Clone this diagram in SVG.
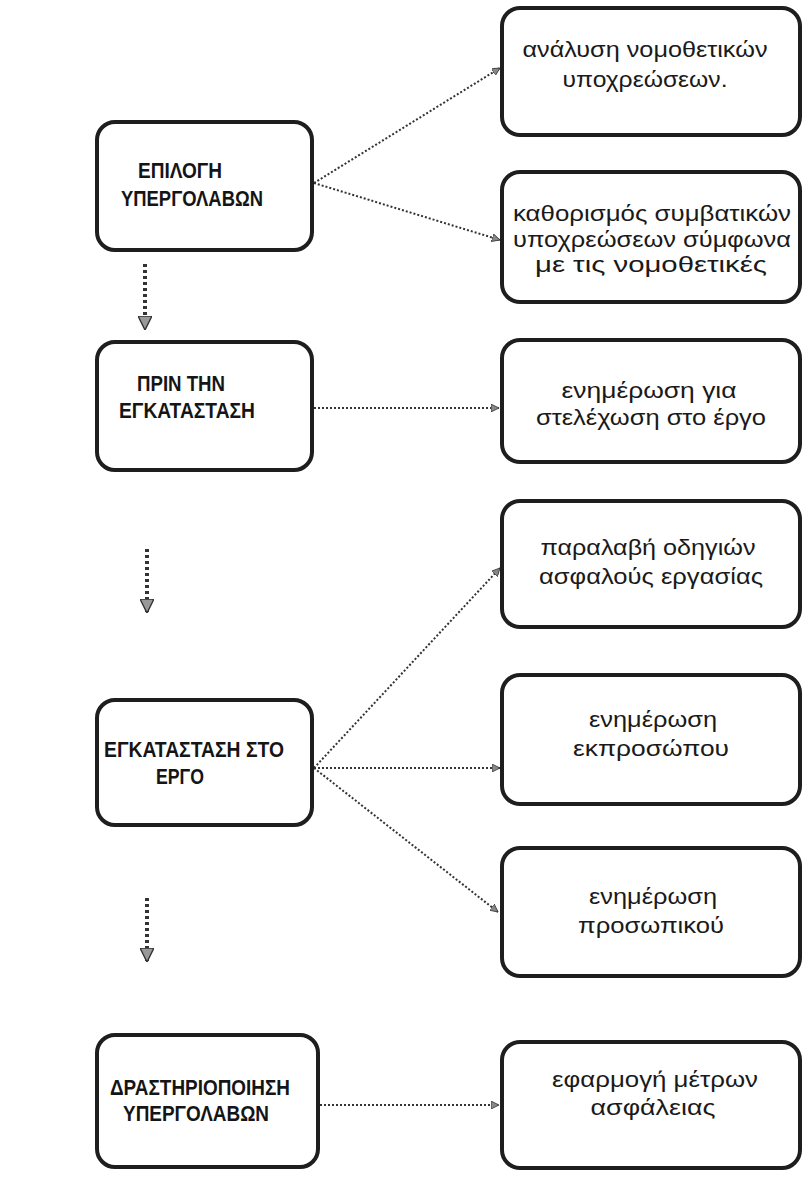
<svg xmlns="http://www.w3.org/2000/svg" width="810" height="1180" viewBox="0 0 810 1180">
<style>
.box{fill:#fff;stroke:#1e1e1e;stroke-width:4}
.lt{font-family:"Liberation Sans",Arial,sans-serif;font-weight:bold;font-size:22px;fill:#151515;text-anchor:middle}
.rt{font-family:"Liberation Sans",Arial,sans-serif;font-size:22px;fill:#1a1a1a;text-anchor:middle}
.con{stroke:#333;stroke-width:2;stroke-dasharray:2 2;fill:none}
.vcon{stroke:#333;stroke-width:4;stroke-dasharray:3 3;fill:none}
</style>
<defs>
<marker id="ah" viewBox="0 0 10 10" refX="10" refY="5" markerWidth="8" markerHeight="8" markerUnits="userSpaceOnUse" orient="auto">
<path d="M0,0 L10,5 L0,10 Z" fill="#888" stroke="#333" stroke-width="1"/>
</marker>
<marker id="ahv" viewBox="0 0 10 10" refX="10" refY="5" markerWidth="14" markerHeight="14" markerUnits="userSpaceOnUse" orient="auto">
<path d="M0,0 L10,5 L0,10 Z" fill="#999" stroke="#333" stroke-width="1"/>
</marker>
</defs>
<rect width="810" height="1180" fill="#fff"/>
<g id="connectors">
<line class="con" x1="314" y1="183" x2="500" y2="68" marker-end="url(#ah)"/>
<line class="con" x1="314" y1="183" x2="500" y2="240" marker-end="url(#ah)"/>
<line class="con" x1="314" y1="408" x2="499" y2="408" marker-end="url(#ah)"/>
<line class="con" x1="314" y1="768" x2="500" y2="568" marker-end="url(#ah)"/>
<line class="con" x1="314" y1="768" x2="500" y2="768" marker-end="url(#ah)"/>
<line class="con" x1="314" y1="768" x2="498" y2="912" marker-end="url(#ah)"/>
<line class="con" x1="320" y1="1105" x2="499" y2="1105" marker-end="url(#ah)"/>
<line class="vcon" x1="145" y1="264" x2="145" y2="330" marker-end="url(#ahv)"/>
<line class="vcon" x1="147" y1="549" x2="147" y2="613" marker-end="url(#ahv)"/>
<line class="vcon" x1="147" y1="898" x2="147" y2="962" marker-end="url(#ahv)"/>
</g>
<g id="n1">
<rect class="box" x="97" y="122" width="215" height="128" rx="18"/>
<text class="lt" x="180" y="178" textLength="84" lengthAdjust="spacingAndGlyphs">ΕΠΙΛΟΓΗ</text>
<text class="lt" x="192" y="206" textLength="142" lengthAdjust="spacingAndGlyphs">ΥΠΕΡΓΟΛΑΒΩΝ</text>
</g>
<g id="n2">
<rect class="box" x="97" y="342" width="215" height="128" rx="18"/>
<text class="lt" x="181" y="391" textLength="88" lengthAdjust="spacingAndGlyphs">ΠΡΙΝ ΤΗΝ</text>
<text class="lt" x="187" y="418" textLength="136" lengthAdjust="spacingAndGlyphs">ΕΓΚΑΤΑΣΤΑΣΗ</text>
</g>
<g id="n3">
<rect class="box" x="97" y="700" width="215" height="125" rx="18"/>
<text class="lt" x="194" y="757" textLength="180" lengthAdjust="spacingAndGlyphs">ΕΓΚΑΤΑΣΤΑΣΗ ΣΤΟ</text>
<text class="lt" x="180" y="784" textLength="48" lengthAdjust="spacingAndGlyphs">ΕΡΓΟ</text>
</g>
<g id="n4">
<rect class="box" x="97" y="1035" width="221" height="132" rx="18"/>
<text class="lt" x="200" y="1095" textLength="180" lengthAdjust="spacingAndGlyphs">ΔΡΑΣΤΗΡΙΟΠΟΙΗΣΗ</text>
<text class="lt" x="196" y="1121" textLength="146" lengthAdjust="spacingAndGlyphs">ΥΠΕΡΓΟΛΑΒΩΝ</text>
</g>
<g id="r1">
<rect class="box" x="502" y="8" width="298" height="127" rx="18"/>
<text class="rt" x="645" y="57" textLength="245" lengthAdjust="spacingAndGlyphs">ανάλυση νομοθετικών</text>
<text class="rt" x="645" y="87" textLength="165" lengthAdjust="spacingAndGlyphs">υποχρεώσεων.</text>
</g>
<g id="r2">
<rect class="box" x="502" y="172" width="298" height="130" rx="18"/>
<text class="rt" x="652" y="221" textLength="278" lengthAdjust="spacingAndGlyphs">καθορισμός συμβατικών</text>
<text class="rt" x="652" y="247" textLength="278" lengthAdjust="spacingAndGlyphs">υποχρεώσεων σύμφωνα</text>
<text class="rt" x="651" y="272" textLength="232" lengthAdjust="spacingAndGlyphs">με τις  νομοθετικές</text>
</g>
<g id="r3">
<rect class="box" x="502" y="340" width="298" height="122" rx="18"/>
<text class="rt" x="649" y="398" textLength="175" lengthAdjust="spacingAndGlyphs">ενημέρωση για</text>
<text class="rt" x="651" y="425" textLength="230" lengthAdjust="spacingAndGlyphs">στελέχωση στο έργο</text>
</g>
<g id="r4">
<rect class="box" x="502" y="501" width="298" height="126" rx="18"/>
<text class="rt" x="648" y="555" textLength="215" lengthAdjust="spacingAndGlyphs">παραλαβή οδηγιών</text>
<text class="rt" x="651" y="584" textLength="224" lengthAdjust="spacingAndGlyphs">ασφαλούς εργασίας</text>
</g>
<g id="r5">
<rect class="box" x="502" y="675" width="298" height="129" rx="18"/>
<text class="rt" x="653" y="727" textLength="128" lengthAdjust="spacingAndGlyphs">ενημέρωση</text>
<text class="rt" x="651" y="756" textLength="156" lengthAdjust="spacingAndGlyphs">εκπροσώπου</text>
</g>
<g id="r6">
<rect class="box" x="502" y="848" width="298" height="128" rx="18"/>
<text class="rt" x="653" y="904" textLength="128" lengthAdjust="spacingAndGlyphs">ενημέρωση</text>
<text class="rt" x="651" y="933" textLength="146" lengthAdjust="spacingAndGlyphs">προσωπικού</text>
</g>
<g id="r7">
<rect class="box" x="502" y="1042" width="298" height="126" rx="18"/>
<text class="rt" x="655" y="1087" textLength="206" lengthAdjust="spacingAndGlyphs">εφαρμογή μέτρων</text>
<text class="rt" x="653" y="1115" textLength="125" lengthAdjust="spacingAndGlyphs">ασφάλειας</text>
</g>
</svg>
